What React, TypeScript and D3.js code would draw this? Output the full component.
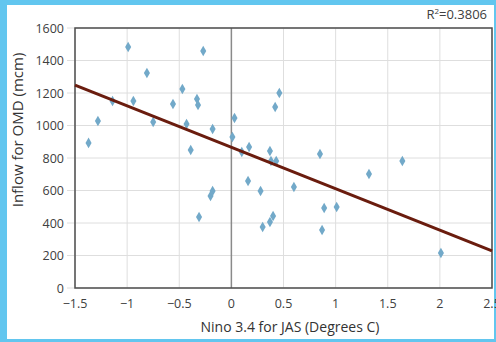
import * as d3 from "d3";
import { useEffect, useRef } from "react";

// Nino 3.4 anomaly (JAS) vs. inflow for OMD
const ninoValues = [
  -1.37, -1.28, -1.14, -0.99, -0.94, -0.81, -0.75, -0.56, -0.47, -0.43,
  -0.39, -0.33, -0.32, -0.27, -0.18, -0.31, -0.2, -0.18, 0.01, 0.03,
  0.1, 0.17, 0.16, 0.28, 0.3, 0.37, 0.38, 0.43, 0.42, 0.46,
  0.37, 0.4, 0.6, 0.85, 0.89, 0.87, 1.01, 1.32, 1.64, 2.01,
];
const inflowValues = [
  893, 1028, 1151, 1483, 1151, 1323, 1022, 1132, 1225, 1009,
  849, 1163, 1126, 1458, 978, 437, 566, 597, 929, 1046,
  837, 868, 658, 597, 375, 843, 782, 782, 1114, 1200,
  406, 443, 622, 825, 492, 357, 498, 702, 782, 215,
];

// linear trend line end points
const trendX = [-1.5, 2.5];
const trendY = [1249, 228];

const xTicks = [-1.5, -1, -0.5, 0, 0.5, 1, 1.5, 2, 2.5];
const yTicks = [0, 200, 400, 600, 800, 1000, 1200, 1400, 1600];
const rSquaredLabel = "0.3806";

const font = "'Open Sans', sans-serif";

export default function App() {
  const ref = useRef<SVGSVGElement>(null);

  useEffect(() => {
    const svg = d3.select(ref.current);
    svg.selectAll("*").remove();

    const width = 496;
    const height = 342;
    const left = 75;
    const right = 492;
    const top = 28;
    const bottom = 288;

    const x = d3.scaleLinear().domain([-1.5, 2.5]).range([left, right]);
    const y = d3.scaleLinear().domain([0, 1600]).range([bottom, top]);

    svg.append("rect").attr("width", width).attr("height", height).attr("fill", "#62c6ef");
    svg.append("rect").attr("x", 7).attr("y", 5).attr("width", 487).attr("height", 334).attr("fill", "#fff");

    // grid + small y ticks
    svg
      .append("g")
      .selectAll("line")
      .data(yTicks)
      .join("line")
      .attr("x1", left - 8)
      .attr("x2", right)
      .attr("y1", (d) => y(d))
      .attr("y2", (d) => y(d))
      .attr("stroke", "#dedede")
      .attr("stroke-width", 1);

    svg
      .append("g")
      .selectAll("line")
      .data(xTicks)
      .join("line")
      .attr("x1", (d) => x(d))
      .attr("x2", (d) => x(d))
      .attr("y1", top)
      .attr("y2", bottom)
      .attr("stroke", (d) => (d === 0 ? "#8a8a8a" : "#dedede"))
      .attr("stroke-width", (d) => (d === 0 ? 1.5 : 1));

    // frame
    svg
      .append("rect")
      .attr("x", left)
      .attr("y", top)
      .attr("width", right - left)
      .attr("height", bottom - top)
      .attr("fill", "none")
      .attr("stroke", "#4d4d4d")
      .attr("stroke-width", 1.5);

    // tick labels
    svg
      .append("g")
      .selectAll("text")
      .data(yTicks)
      .join("text")
      .attr("x", 64)
      .attr("y", (d) => y(d) + 4.5)
      .attr("text-anchor", "end")
      .attr("font-family", font)
      .attr("font-size", 12.5)
      .attr("fill", "#404040")
      .text((d) => d);

    svg
      .append("g")
      .selectAll("text")
      .data(xTicks)
      .join("text")
      .attr("x", (d) => x(d))
      .attr("y", 308)
      .attr("text-anchor", "middle")
      .attr("font-family", font)
      .attr("font-size", 12.5)
      .attr("fill", "#404040")
      .text((d) => (d < 0 ? "\u2212" + Math.abs(d) : String(d)));

    // axis titles
    svg
      .append("text")
      .attr("x", 290)
      .attr("y", 332)
      .attr("text-anchor", "middle")
      .attr("font-family", font)
      .attr("font-size", 14)
      .attr("fill", "#333")
      .text("Nino 3.4 for JAS (Degrees C)");

    svg
      .append("text")
      .attr("transform", "translate(23,130) rotate(-90)")
      .attr("text-anchor", "middle")
      .attr("font-family", font)
      .attr("font-size", 15)
      .attr("fill", "#333")
      .text("Inflow for OMD (mcm)");

    // R squared
    const r2 = svg
      .append("text")
      .attr("x", 487)
      .attr("y", 19)
      .attr("text-anchor", "end")
      .attr("font-family", font)
      .attr("font-size", 13)
      .attr("fill", "#404040");
    r2.append("tspan").text("R");
    r2.append("tspan").attr("font-size", 8).attr("dy", -5).text("2");
    r2.append("tspan").attr("dy", 5).text("=" + rSquaredLabel);

    // points
    const diamond = d3.symbol().type(d3.symbolDiamond).size(32);
    svg
      .append("g")
      .selectAll("path")
      .data(ninoValues)
      .join("path")
      .attr("transform", (d, i) => `translate(${x(d)},${y(inflowValues[i])})`)
      .attr("d", diamond)
      .attr("fill", "#72a9c9");

    // trend
    const line = d3
      .line<number>()
      .x((d) => x(d))
      .y((d, i) => y(trendY[i]));
    svg
      .append("path")
      .attr("d", line(trendX))
      .attr("fill", "none")
      .attr("stroke", "#6a1c0e")
      .attr("stroke-width", 3);
  }, []);

  return (
    <div style={{ position: "absolute", left: 0, top: 0 }}>
      <svg ref={ref} width={496} height={342} style={{ display: "block" }}></svg>
    </div>
  );
}
